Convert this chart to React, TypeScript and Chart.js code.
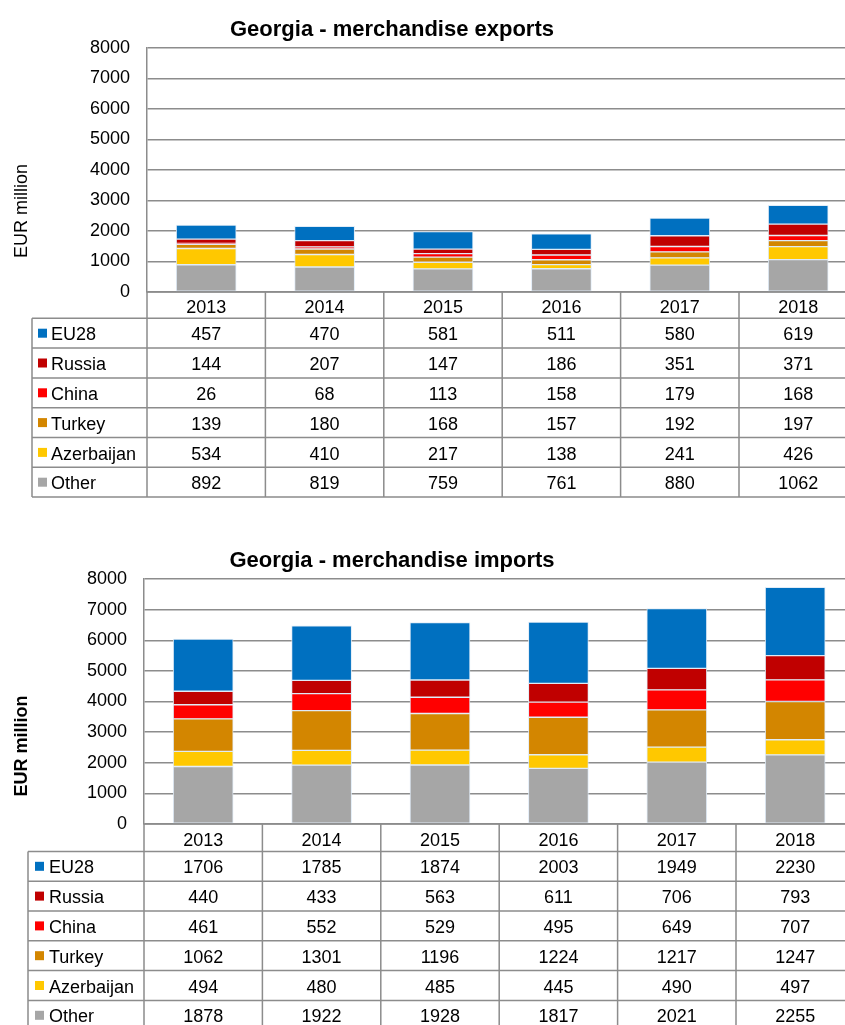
import React, { useEffect, useRef } from 'react';
import { Chart, registerables } from 'chart.js';

Chart.register(...registerables);

// ---------- data ----------
const years = ['2013', '2014', '2015', '2016', '2017', '2018'];
const seriesNames = ['EU28', 'Russia', 'China', 'Turkey', 'Azerbaijan', 'Other'];
const seriesColors = ['#0070C0', '#C00000', '#FF0000', '#D38600', '#FFC800', '#A6A6A6'];

const exportEU28 = [457, 470, 581, 511, 580, 619];
const exportRussia = [144, 207, 147, 186, 351, 371];
const exportChina = [26, 68, 113, 158, 179, 168];
const exportTurkey = [139, 180, 168, 157, 192, 197];
const exportAzerbaijan = [534, 410, 217, 138, 241, 426];
const exportOther = [892, 819, 759, 761, 880, 1062];

const importEU28 = [1706, 1785, 1874, 2003, 1949, 2230];
const importRussia = [440, 433, 563, 611, 706, 793];
const importChina = [461, 552, 529, 495, 649, 707];
const importTurkey = [1062, 1301, 1196, 1224, 1217, 1247];
const importAzerbaijan = [494, 480, 485, 445, 490, 497];
const importOther = [1878, 1922, 1928, 1817, 2021, 2255];

const yMin = 0;
const yMax = 8000;
const yStep = 1000;

const exportSeries = [exportEU28, exportRussia, exportChina, exportTurkey, exportAzerbaijan, exportOther];
const importSeries = [importEU28, importRussia, importChina, importTurkey, importAzerbaijan, importOther];

// ---------- layout ----------
type Geo = {
  canvasH: number;
  plotLeft: number;
  plotTop: number;
  plotBottom: number;
  colW: number;
  headerH: number;
  rowH: number;
  legendLeft: number;
  sqDx: number;
  textDx: number;
  titleX: number;
  titleY: number;
  yTitleX: number;
  yTitleY: number;
};

const CANVAS_W = 870;
const FONT = 'Arial, "Liberation Sans", sans-serif';
const LINE = '#8c8c8c';

const geoExports: Geo = {
  canvasH: 510,
  plotLeft: 147,
  plotTop: 48,
  plotBottom: 292,
  colW: 118.4,
  headerH: 26.3,
  rowH: 29.8,
  legendLeft: 32,
  sqDx: 6,
  textDx: 19,
  titleX: 392,
  titleY: 36,
  yTitleX: 27,
  yTitleY: 211,
};

const geoImports: Geo = {
  canvasH: 505,
  plotLeft: 144,
  plotTop: 59,
  plotBottom: 304,
  colW: 118.4,
  headerH: 27.4,
  rowH: 29.8,
  legendLeft: 28,
  sqDx: 7,
  textDx: 21,
  titleX: 392,
  titleY: 46.5,
  yTitleX: 26.5,
  yTitleY: 226,
};

type PanelProps = {
  title: string;
  yTitle: string;
  yTitleBold: boolean;
  series: number[][];
  geo: Geo;
  top: number;
};

function Panel({ title, yTitle, yTitleBold, series, geo, top }: PanelProps) {
  const ref = useRef<HTMLCanvasElement | null>(null);

  useEffect(() => {
    const canvas = ref.current;
    if (!canvas) return;

    // datasets stacked bottom-up: Other first, EU28 last
    const order = [5, 4, 3, 2, 1, 0];
    const datasets = order.map((i) => ({
      label: seriesNames[i],
      data: series[i],
      backgroundColor: seriesColors[i],
      borderColor: 'rgba(222,234,246,0.9)',
      borderWidth: 1,
      borderSkipped: false as const,
      barThickness: 60,
      stack: 's',
    }));

    const tablePlugin = {
      id: 'tablePlugin',
      afterDraw(chart: any) {
        const ctx = chart.ctx as CanvasRenderingContext2D;
        const area = chart.chartArea;
        const xScale = chart.scales.x;
        const left = area.left;
        const right = area.right;
        const bottom = area.bottom;
        const colW = (right - left) / years.length;
        const headerBottom = bottom + geo.headerH;
        const rowTops = seriesNames.map((_, r) => headerBottom + r * geo.rowH);
        const tableBottom = headerBottom + seriesNames.length * geo.rowH;

        ctx.save();
        // title
        ctx.fillStyle = '#000';
        ctx.font = `bold 22px ${FONT}`;
        ctx.textAlign = 'center';
        ctx.textBaseline = 'alphabetic';
        ctx.fillText(title, geo.titleX, geo.titleY);

        // y axis title
        ctx.save();
        ctx.translate(geo.yTitleX, geo.yTitleY);
        ctx.rotate(-Math.PI / 2);
        ctx.font = `${yTitleBold ? 'bold ' : ''}18px ${FONT}`;
        ctx.textAlign = 'center';
        ctx.textBaseline = 'alphabetic';
        ctx.fillText(yTitle, 0, 0);
        ctx.restore();

        // table lines
        ctx.strokeStyle = LINE;
        ctx.lineWidth = 1.5;
        ctx.beginPath();
        ctx.moveTo(left, bottom);
        ctx.lineTo(CANVAS_W, bottom);
        for (let r = 0; r <= seriesNames.length; r++) {
          const y = headerBottom + r * geo.rowH;
          ctx.moveTo(geo.legendLeft, y);
          ctx.lineTo(CANVAS_W, y);
        }
        ctx.moveTo(geo.legendLeft, headerBottom);
        ctx.lineTo(geo.legendLeft, tableBottom);
        for (let c = 0; c <= years.length; c++) {
          const x = left + c * colW;
          ctx.moveTo(x, bottom);
          ctx.lineTo(x, tableBottom);
        }
        ctx.stroke();

        // header (years)
        ctx.font = `18px ${FONT}`;
        ctx.fillStyle = '#000';
        ctx.textAlign = 'center';
        ctx.textBaseline = 'alphabetic';
        years.forEach((yr, c) => {
          const cx = xScale.getPixelForValue(c);
          ctx.fillText(yr, cx, headerBottom - 5.5);
        });

        // rows
        seriesNames.forEach((name, r) => {
          const top = rowTops[r];
          const mid = top + geo.rowH / 2;
          ctx.fillStyle = seriesColors[r];
          ctx.fillRect(geo.legendLeft + geo.sqDx, mid - 4.5, 9, 9);
          ctx.fillStyle = '#000';
          ctx.textAlign = 'left';
          ctx.fillText(name, geo.legendLeft + geo.textDx, top + 22);
          ctx.textAlign = 'center';
          series[r].forEach((v, c) => {
            const cx = xScale.getPixelForValue(c);
            ctx.fillText(String(v), cx, top + 22);
          });
        });
        ctx.restore();
      },
    };

    const chart = new Chart(canvas, {
      type: 'bar',
      data: { labels: years, datasets },
      options: {
        responsive: false,
        animation: false,
        devicePixelRatio: 1,
        layout: {
          padding: {
            left: 0,
            top: geo.plotTop,
            bottom: geo.canvasH - geo.plotBottom,
            right: CANVAS_W - (geo.plotLeft + geo.colW * years.length),
          },
        },
        plugins: {
          legend: { display: false },
          title: { display: false },
          tooltip: { enabled: false },
        },
        scales: {
          x: {
            display: false,
            stacked: true,
            offset: true,
          },
          y: {
            stacked: true,
            min: yMin,
            max: yMax,
            afterFit(scale: any) {
              scale.width = geo.plotLeft;
            },
            ticks: {
              stepSize: yStep,
              color: '#000',
              padding: 17,
              font: { family: FONT, size: 18 },
              callback: (value: any) => String(value),
            },
            grid: {
              color: LINE,
              lineWidth: 1.5,
              drawTicks: false,
            },
            border: { display: true, color: LINE, width: 1.5 },
          },
        },
      },
      plugins: [tablePlugin],
    } as any);

    return () => {
      chart.destroy();
    };
  }, []);

  return (
    <canvas
      ref={ref}
      width={CANVAS_W}
      height={geo.canvasH}
      style={{ position: 'absolute', left: 0, top, width: CANVAS_W, height: geo.canvasH }}
    />
  );
}

export default function App() {
  return (
    <div
      style={{
        position: 'absolute',
        left: 0,
        top: 0,
        width: 845,
        height: 1025,
        overflow: 'hidden',
        background: '#fff',
      }}
    >
      <Panel
        title="Georgia - merchandise exports"
        yTitle="EUR million"
        yTitleBold={false}
        series={exportSeries}
        geo={geoExports}
        top={0}
      />
      <Panel
        title="Georgia - merchandise imports"
        yTitle="EUR million"
        yTitleBold={true}
        series={importSeries}
        geo={geoImports}
        top={520}
      />
    </div>
  );
}
